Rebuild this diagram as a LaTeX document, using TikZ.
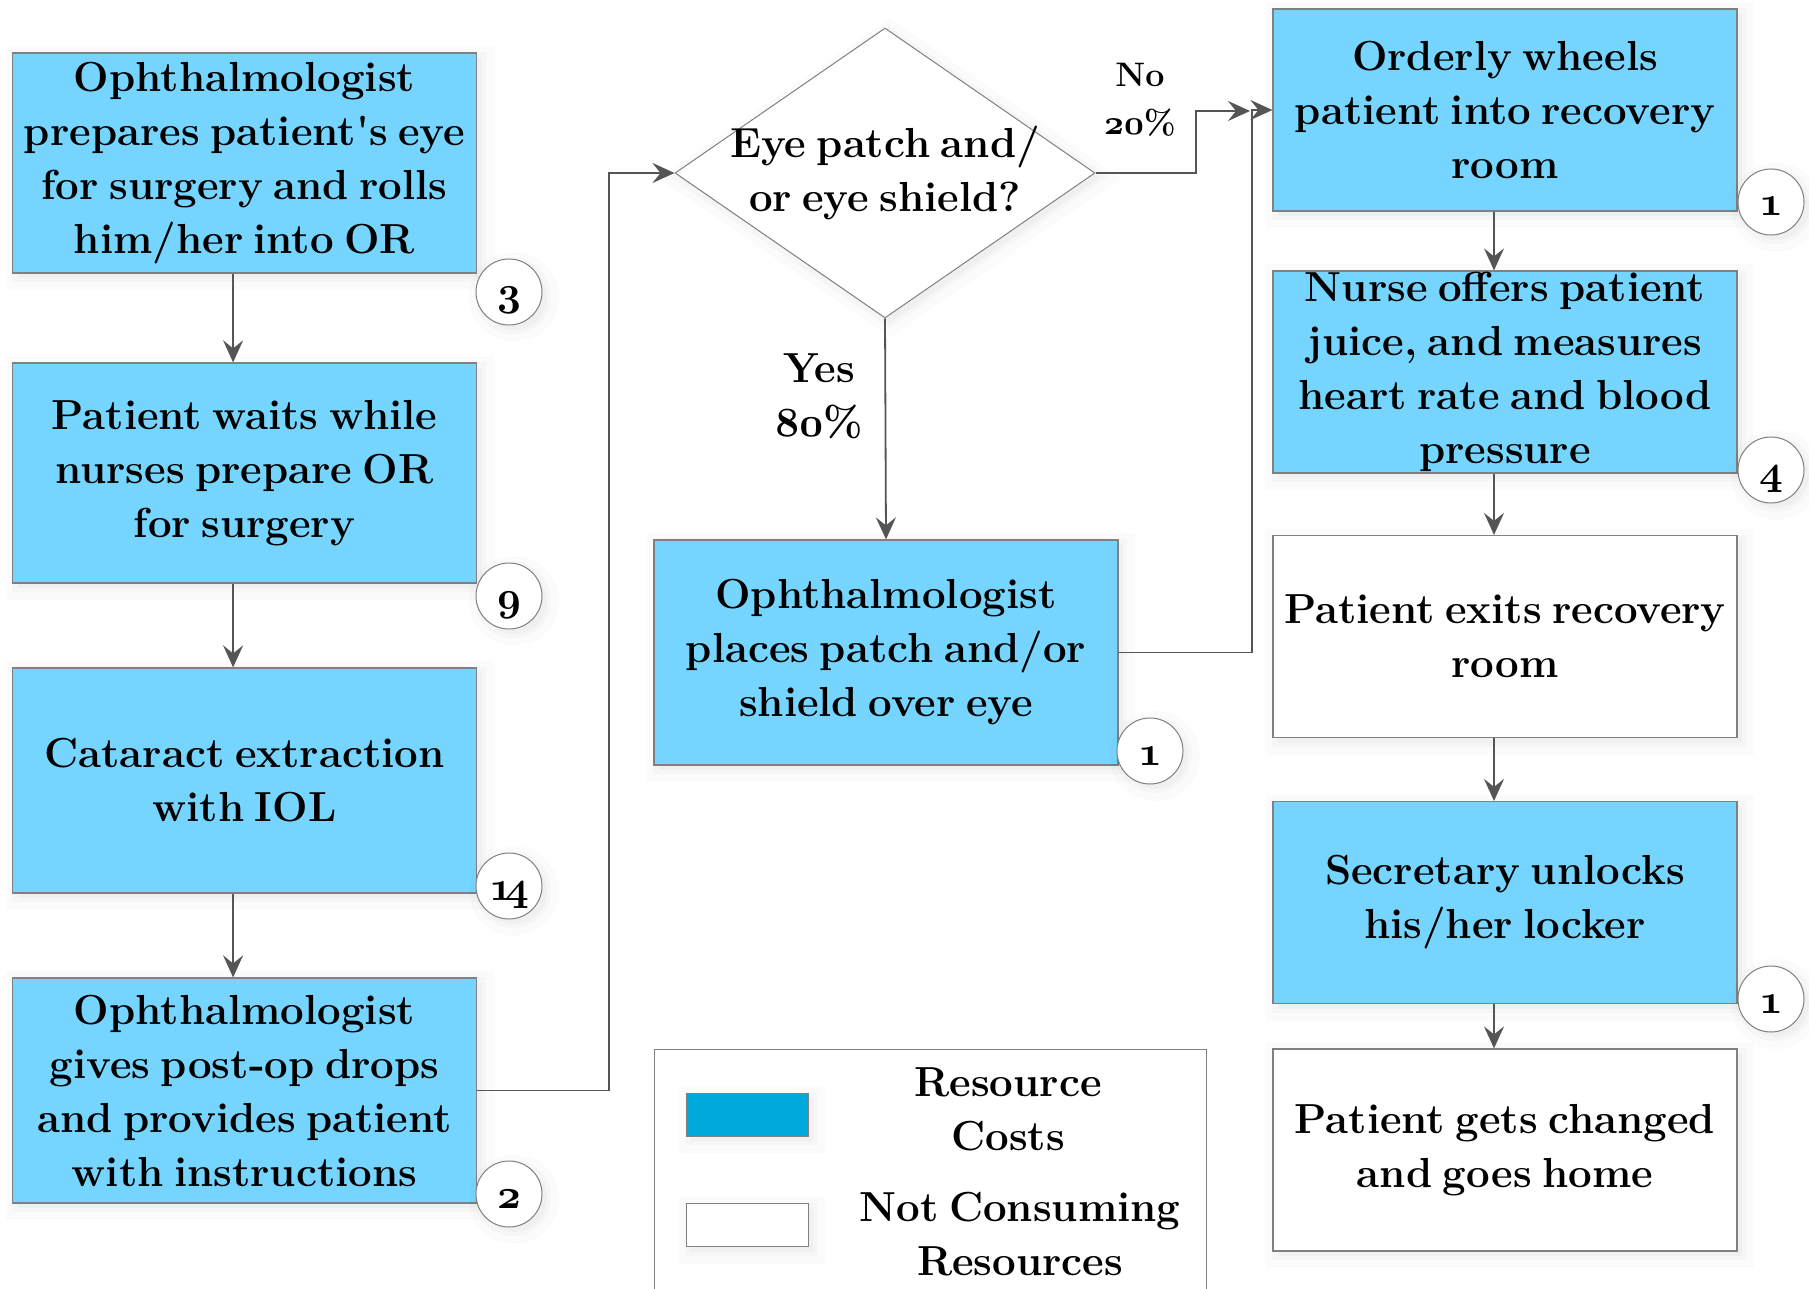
\documentclass[tikz,border=0pt]{standalone}
\usetikzlibrary{shapes.geometric,arrows.meta}
\definecolor{boxblue}{RGB}{117,213,255}
\definecolor{legblue}{RGB}{0,169,220}
\definecolor{edgegray}{RGB}{128,128,128}
\definecolor{arrgray}{RGB}{85,85,85}
\newcommand\osn[1]{{\boldmath$\mathnormal{#1}$}}
\newcommand\mainfnt{\fontsize{21}{27}\selectfont\bfseries\spaceskip 0.25em plus 0.1em minus 0.05em\relax}
\newcommand\lblfnt{\fontsize{17}{24}\selectfont\bfseries\spaceskip 0.25em plus 0.1em minus 0.05em\relax}
\newcommand\numfnt{\fontsize{21}{21}\selectfont\bfseries}
\begin{document}
\begin{tikzpicture}[x=0.5pt,y=-0.5pt,
  every node/.style={font=\mainfnt, align=center, inner sep=0pt},
  softshade/.style={
    preaction={draw=black, draw opacity=0.015, line width=12pt, fill=black, fill opacity=0.025, transform canvas={xshift=2.5pt,yshift=-2.5pt}},
    preaction={draw=black, draw opacity=0.02, line width=5pt, transform canvas={xshift=2pt,yshift=-2pt}}},
  bluebox/.style={softshade, draw=edgegray, line width=0.6pt, fill=boxblue, minimum width=232pt},
  whitebox/.style={softshade, draw=edgegray, line width=0.6pt, fill=white, minimum width=232pt},
  numc/.style={softshade, circle, draw=edgegray, line width=0.5pt, fill=white, minimum size=33pt,
    font=\numfnt, text height=14pt, text depth=0pt},
  arr/.style={draw=arrgray, line width=0.9pt, -{Stealth[length=11pt,width=10pt,inset=4pt]}},
  decision/.style={softshade, diamond, draw=edgegray, line width=0.5pt, fill=white, minimum width=210pt, minimum height=145pt},
  lbl/.style={font=\lblfnt}]
\useasboundingbox (0,0) rectangle (1809,1289);
\clip (0,0) rectangle (1809,1289);
\fill[white] (0,0) rectangle (1809,1289);

% left column
\node[bluebox, minimum height=110pt] (b1) at (244.5,163) {Ophthalmologist\\prepares patient\textquotesingle s eye\\for surgery and rolls\\him/her into OR};
\node[bluebox, minimum height=110pt] (b2) at (244.5,473) {Patient waits while\\nurses prepare OR\\for surgery};
\node[bluebox, minimum height=112.5pt] (b3) at (244.5,780.5) {Cataract extraction\\with IOL};
\node[bluebox, minimum height=112.5pt] (b4) at (244.5,1090.5) {Ophthalmologist\\gives post-op drops\\and provides patient\\with instructions};

% middle
\node[decision] (d) at (885,173) {};
\node (dtext) at (d.center) {Eye patch and/\\or eye shield?};
\node[bluebox, minimum height=112.5pt] (b5) at (886,652.5) {Ophthalmologist\\places patch and/or\\shield over eye};
\node (yes) at (819,396) {Yes\\\osn{80}\%};
\node[lbl] (no) at (1140,100) {No\\\osn{20}\%};

% right column
\node[bluebox, minimum height=101pt] (b6) at (1505,110) {Orderly wheels\\patient into recovery\\room};
\node[bluebox, minimum height=101pt] (b7) at (1505,372) {Nurse offers patient\\juice, and measures\\heart rate and blood\\pressure};
\node[whitebox, minimum height=101pt] (b8) at (1505,636.5) {Patient exits recovery\\room};
\node[bluebox, minimum height=101pt] (b9) at (1505,902.5) {Secretary unlocks\\his/her locker};
\node[whitebox, minimum height=101pt] (b10) at (1505,1150) {Patient gets changed\\and goes home};

% number circles
\node[numc] (c1) at (509,292) {\osn{3}};
\node[numc] (c2) at (509,596) {\osn{9}};
\node[numc] (c3) at (509,886) {\osn{1\mkern-3mu4}};
\node[numc] (c4) at (509,1194) {\osn{2}};
\node[numc] (c5) at (1150,751) {\osn{1}};
\node[numc] (c6) at (1771,202) {\osn{1}};
\node[numc] (c7) at (1771,470) {\osn{4}};
\node[numc] (c9) at (1771,999) {\osn{1}};

% legend
\node[draw=edgegray, line width=0.6pt, fill=white, anchor=north west, minimum width=276pt, minimum height=150pt] (leg) at (654,1049) {};
\node[softshade, draw=edgegray, line width=0.5pt, fill=legblue, minimum width=61pt, minimum height=21.5pt] (sw1) at (747,1114.5) {};
\node[softshade, draw=edgegray, line width=0.5pt, fill=white, minimum width=61pt, minimum height=21.5pt] (sw2) at (747,1225) {};
\node (lt1) at (1008,1109) {Resource\\Costs};
\node (lt2) at (1020,1234) {Not Consuming\\Resources};

% connectors
\draw[arr] ([xshift=-5.7pt]b1.south) -- ([xshift=-5.7pt]b2.north);
\draw[arr] ([xshift=-5.7pt]b2.south) -- ([xshift=-5.7pt]b3.north);
\draw[arr] ([xshift=-5.7pt]b3.south) -- ([xshift=-5.7pt]b4.north);
\coordinate (j1) at (609,600);
\draw[arr] (b4.east) -| (j1) |- (d.west);
\draw[arr] (d.south) -- (b5.north);
\coordinate (k) at (1196,111);
\coordinate (j2) at (1250,111);
\draw[arr] (d.east) -| (k) -- (j2);
\coordinate (j4) at (1252,400);
\draw[arr] (b5.east) -| (j4) |- (b6.west);
\draw[arr] ([xshift=-5.5pt]b6.south) -- ([xshift=-5.5pt]b7.north);
\draw[arr] ([xshift=-5.5pt]b7.south) -- ([xshift=-5.5pt]b8.north);
\draw[arr] ([xshift=-5.5pt]b8.south) -- ([xshift=-5.5pt]b9.north);
\draw[arr] ([xshift=-5.5pt]b9.south) -- ([xshift=-5.5pt]b10.north);
\end{tikzpicture}
\end{document}
